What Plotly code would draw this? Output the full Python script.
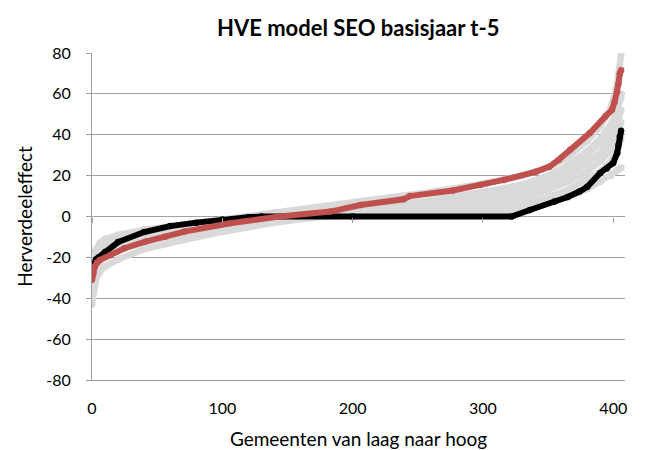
import plotly.graph_objects as go

# x positions (rank of municipality) where the curves were read
idx_grijs = [0, 1, 3, 6, 10, 20, 40, 70, 100, 140, 180, 220, 260, 300, 330, 350, 365, 380, 390, 398, 402, 404, 406]

grijs_a = [-33, -25, -17, -13, -11, -9, -6.5, -4, -1.5, 2, 5, 8.5, 12, 16, 20, 24, 29, 37, 44, 53, 62, 70, 79]
grijs_b = [-43, -37, -31, -27, -24.5, -21, -16, -11.5, -7.5, -3, 0, 3, 6, 9.5, 13.5, 18, 23, 30, 36, 44, 50, 55, 60]
grijs_c = [-38, -32, -26, -22, -20, -16.5, -12.5, -8.5, -5, -1.5, 1.5, 4.5, 8, 12, 15.5, 20, 25, 32, 38, 45, 50, 54, 58]
grijs_d = [-30, -26, -22, -19, -17, -14, -10, -6.5, -3.5, -0.5, 1.5, 3.5, 5.5, 8.5, 12, 16, 20, 26, 31, 38, 44, 48, 52]
grijs_e = [-27, -23, -19, -16, -14.5, -12, -8.5, -5.5, -2.5, 0, 1.5, 2.5, 4, 6, 9, 13, 17, 22, 27, 33, 38, 42, 46]
grijs_f = [-24, -20, -16, -14, -12.5, -10.5, -7.5, -4.5, -2, 0, 0.8, 1.5, 2.5, 3.5, 6, 9.5, 13, 18, 22, 27, 31, 34, 38]
grijs_g = [-29, -25, -21, -18, -16, -13, -9, -5.5, -3, -0.5, 0.3, 0.6, 1, 1.5, 3.5, 6.5, 9.5, 13.5, 17, 20, 22, 23, 24]

idx_rood = [0, 1, 2, 4, 6, 14, 25, 41, 56, 71, 106, 144, 183, 206, 239, 244, 277, 298, 316, 341, 351, 358, 367, 382, 394, 399, 401, 403, 404, 405, 406]
rood = [-31, -28, -24.6, -22.5, -21.3, -18.9, -15.5, -12.3, -9.9, -7.4, -3.3, 0, 2.4, 5.6, 8.4, 10, 12.7, 15.4, 17.9, 22, 24.4, 27.7, 32.6, 40.8, 49, 52.2, 56, 61, 65, 70, 71.5]

idx_zwart = [0, 1, 3, 5, 10, 20, 40, 60, 80, 100, 120, 130, 200, 322, 336, 355, 365, 374, 380, 390, 395, 400, 403, 404, 405, 406]
zwart = [-27, -24, -21, -20, -17.4, -12.5, -7.6, -4.7, -3, -1.5, -0.4, 0, 0, 0, 3.2, 7.3, 9.5, 12.2, 14.5, 21.3, 23.5, 26.2, 31, 35, 39, 42]

x_ticks = [0, 100, 200, 300, 400]
y_ticks = [-80, -60, -40, -20, 0, 20, 40, 60, 80]
y_labels = ['-80', '-60', '-40', '-20', '0', '20', '40', '60', '80']

fig = go.Figure()

for g in [grijs_a, grijs_b, grijs_c, grijs_d, grijs_e, grijs_f, grijs_g]:
	fig.add_trace(go.Scatter(x=idx_grijs, y=g, mode='lines+markers',
		line=dict(color='#d9d9d9', width=6.5), marker=dict(color='#d9d9d9', size=7),
		showlegend=False, hoverinfo='skip'))

fig.add_trace(go.Scatter(x=idx_zwart, y=zwart, mode='lines+markers',
	line=dict(color='black', width=6), marker=dict(color='black', size=6.5), showlegend=False))
fig.add_trace(go.Scatter(x=idx_rood, y=rood, mode='lines+markers',
	line=dict(color='#c0504d', width=6), marker=dict(color='#c0504d', size=6.5), showlegend=False))

fnt = 'Lato, Carlito, Calibri, sans-serif'

# page body has an 8px margin, so the figure margins are shifted by 8
fig.update_layout(
	width=645, height=450,
	margin=dict(l=84, r=28, t=45, b=78, autoexpand=False),
	paper_bgcolor='white', plot_bgcolor='white',
	font=dict(family=fnt, size=16, color='black'),
	title=dict(text='<b>HVE model SEO basisjaar t-5</b>', x=0.543, xanchor='center', y=0.956, yanchor='middle',
		font=dict(family=fnt, size=22, color='black')),
	xaxis=dict(range=[0, 409], tickvals=x_ticks, showgrid=False, zeroline=False, automargin=False,
		showline=True, linecolor='#a0a0a0', linewidth=1, ticks='', ticklabelstandoff=14,
		title=dict(text='Gemeenten van laag naar hoog', standoff=16)),
	xaxis2=dict(range=[0, 409], tickvals=x_ticks, overlaying='x', anchor='free', position=0.5,
		showticklabels=False, showgrid=False, zeroline=False, showline=False, automargin=False,
		ticks='outside', ticklen=5, tickcolor='#a0a0a0'),
	yaxis=dict(range=[-80, 80], tickvals=y_ticks, ticktext=y_labels, showgrid=True, gridcolor='#a0a0a0', gridwidth=1,
		zeroline=False, showline=True, linecolor='#a0a0a0', linewidth=1, automargin=False,
		ticks='outside', ticklen=5, tickcolor='#a0a0a0', ticklabelstandoff=12,
		title=dict(text='Herverdeeleffect', standoff=8)),
)

# dummy trace so that the second x axis (ticks on the zero line) is drawn
fig.add_trace(go.Scatter(x=[0], y=[0], xaxis='x2', mode='markers', marker=dict(opacity=0), showlegend=False, hoverinfo='skip'))

fig.write_html("out.html")
